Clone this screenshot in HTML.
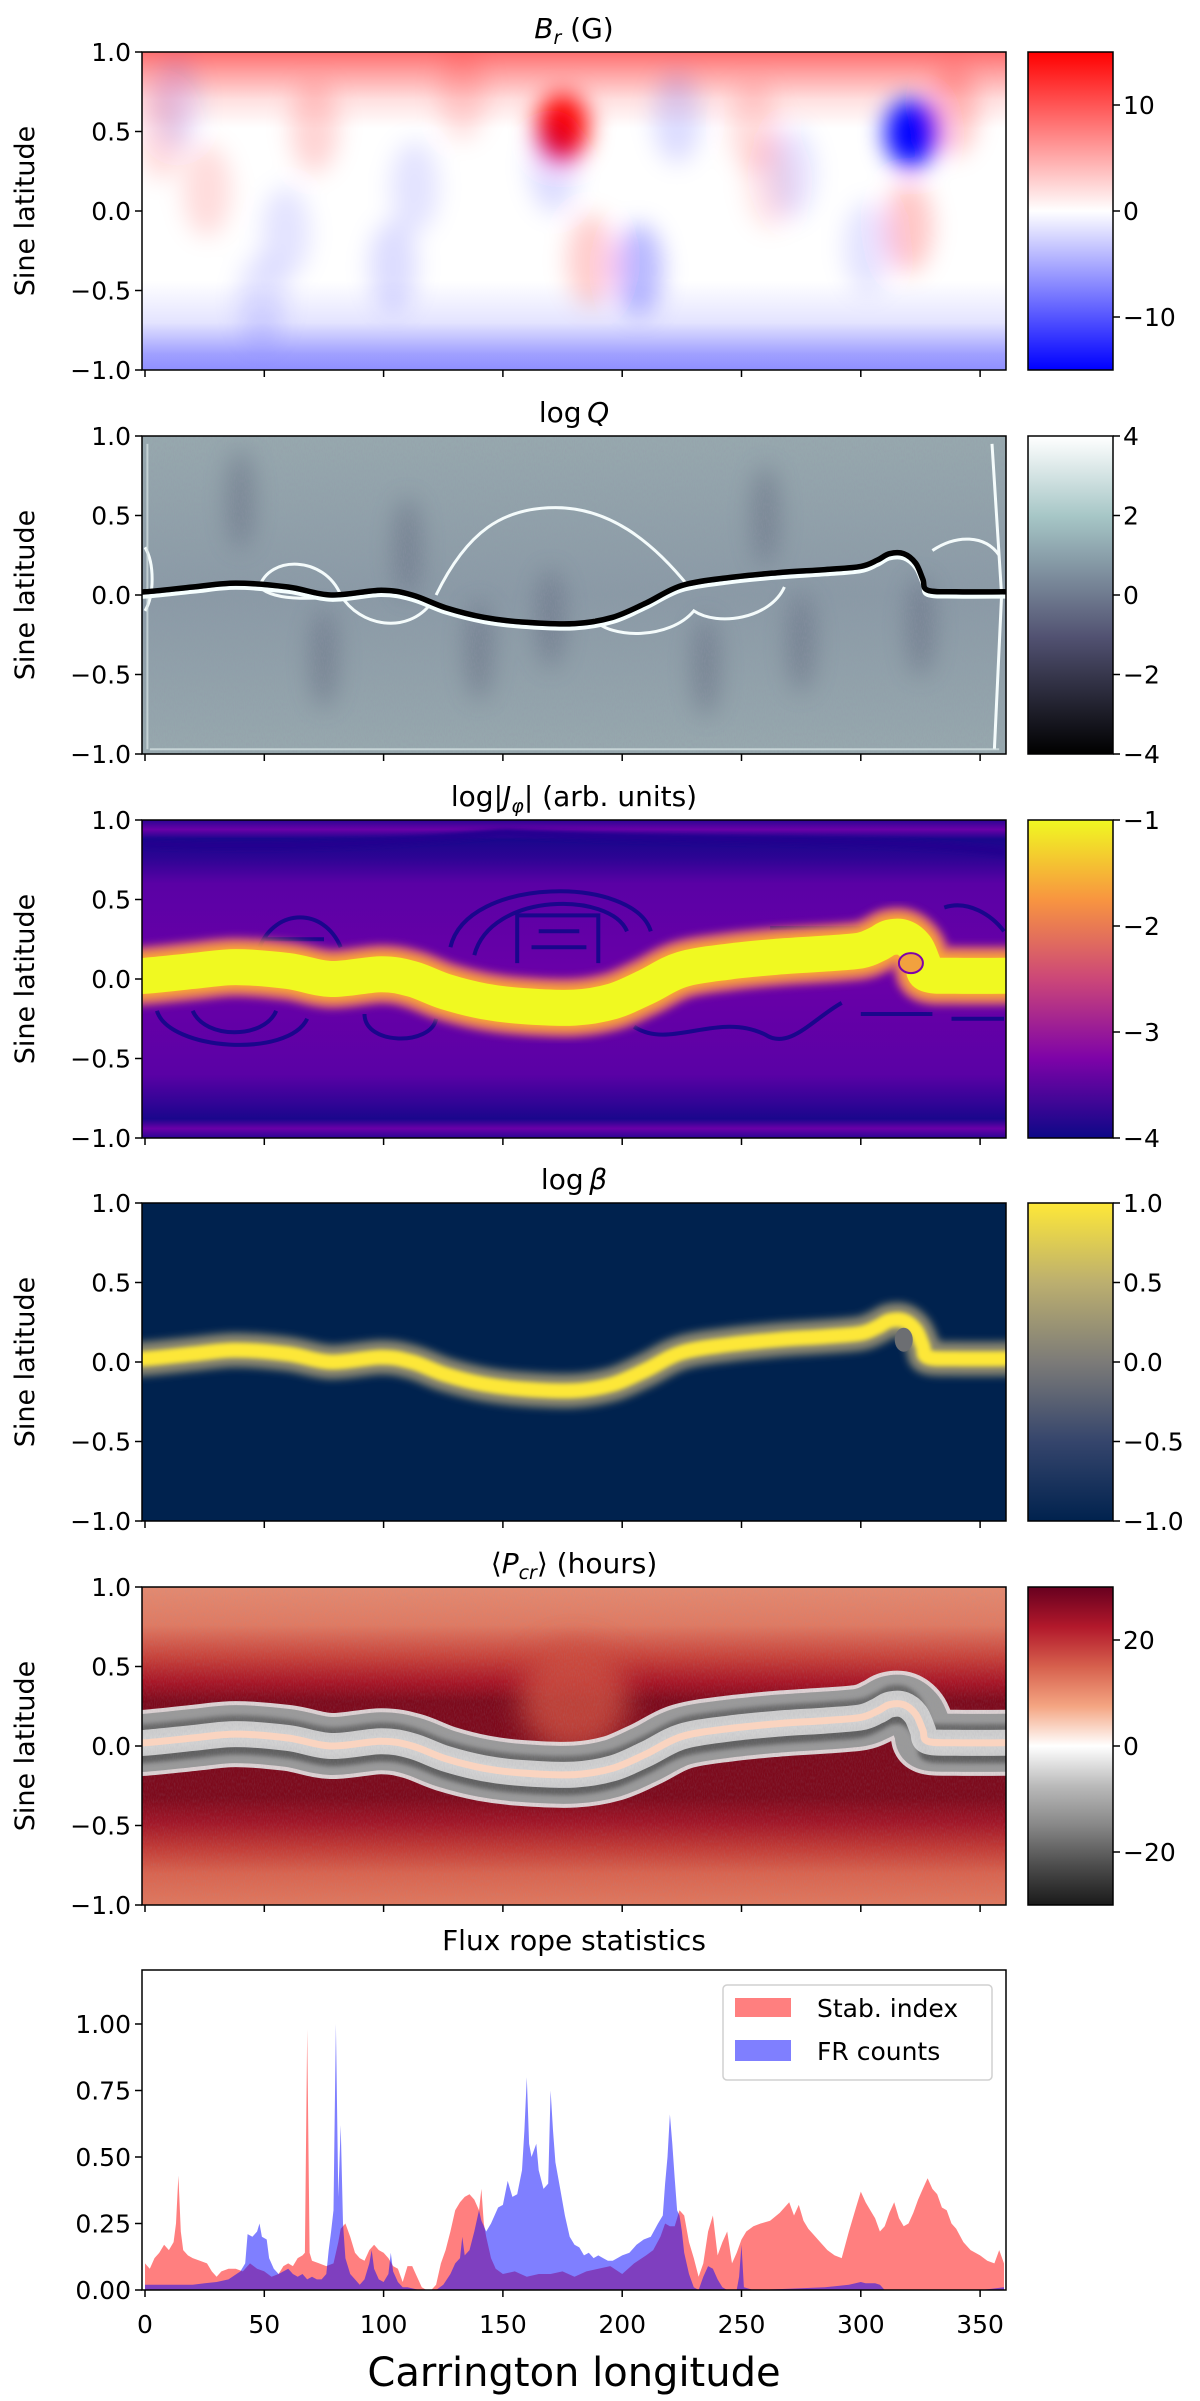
<!DOCTYPE html>
<html><head><meta charset="utf-8"><title>Flux rope figure</title>
<style>
html,body{margin:0;padding:0;background:#fff;}
svg{display:block;font-family:"DejaVu Sans","Liberation Sans",sans-serif;}
</style></head>
<body>
<svg id="fig" width="1200" height="2401" viewBox="0 0 1200 2401" xmlns="http://www.w3.org/2000/svg">
<defs>
<filter id="blur8" x="-50%" y="-50%" width="200%" height="200%"><feGaussianBlur stdDeviation="8"/></filter>
<filter id="blur12" x="-50%" y="-50%" width="200%" height="200%"><feGaussianBlur stdDeviation="12"/></filter>
<filter id="blur14" x="-50%" y="-50%" width="200%" height="200%"><feGaussianBlur stdDeviation="14"/></filter>
<filter id="blur4" x="-20%" y="-50%" width="140%" height="200%"><feGaussianBlur stdDeviation="4"/></filter>
<filter id="blur2" x="-20%" y="-50%" width="140%" height="200%"><feGaussianBlur stdDeviation="2"/></filter>
<filter id="noise" x="0" y="0" width="100%" height="100%"><feTurbulence type="fractalNoise" baseFrequency="0.9 0.3" numOctaves="2" seed="3"/><feColorMatrix type="matrix" values="0 0 0 0 0.3  0 0 0 0 0.3  0 0 0 0 0.4  0 0 0 -1.2 0.75"/></filter>
<filter id="speck" x="0" y="0" width="100%" height="100%"><feTurbulence type="fractalNoise" baseFrequency="0.5" numOctaves="1" seed="7"/><feColorMatrix type="matrix" values="0 0 0 0 1  0 0 0 0 1  0 0 0 0 1  0 0 0 -3 1.5"/></filter>
<linearGradient id="cb-bwr" x1="0" y1="0" x2="0" y2="1"><stop offset="0" stop-color="#ff0000"/><stop offset="0.5" stop-color="#ffffff"/><stop offset="1" stop-color="#0000ff"/></linearGradient>
<linearGradient id="cb-bone" x1="0" y1="0" x2="0" y2="1"><stop offset="0" stop-color="#ffffff"/><stop offset="0.254" stop-color="#a6c6c6"/><stop offset="0.635" stop-color="#515171"/><stop offset="1" stop-color="#000000"/></linearGradient>
<linearGradient id="cb-plasma" x1="0" y1="0" x2="0" y2="1"><stop offset="0" stop-color="#f0f921"/><stop offset="0.25" stop-color="#f89540"/><stop offset="0.5" stop-color="#cc4778"/><stop offset="0.75" stop-color="#7e03a8"/><stop offset="1" stop-color="#0d0887"/></linearGradient>
<linearGradient id="cb-cividis" x1="0" y1="0" x2="0" y2="1"><stop offset="0" stop-color="#fee838"/><stop offset="0.25" stop-color="#bcaf6f"/><stop offset="0.5" stop-color="#7c7b78"/><stop offset="0.75" stop-color="#35456c"/><stop offset="1" stop-color="#00224e"/></linearGradient>
<linearGradient id="cb-rdgy" x1="0" y1="0" x2="0" y2="1"><stop offset="0" stop-color="#67001f"/><stop offset="0.125" stop-color="#b2182b"/><stop offset="0.25" stop-color="#d6604d"/><stop offset="0.375" stop-color="#f4a582"/><stop offset="0.5" stop-color="#ffffff"/><stop offset="0.625" stop-color="#bababa"/><stop offset="0.75" stop-color="#878787"/><stop offset="0.875" stop-color="#4d4d4d"/><stop offset="1" stop-color="#1a1a1a"/></linearGradient>
<linearGradient id="bg-br" x1="0" y1="0" x2="0" y2="1"><stop offset="0" stop-color="#ff7070"/><stop offset="0.06" stop-color="#ff9e9e"/><stop offset="0.15" stop-color="#ffe0e0"/><stop offset="0.24" stop-color="#ffffff"/><stop offset="0.72" stop-color="#ffffff"/><stop offset="0.85" stop-color="#e4e4ff"/><stop offset="0.95" stop-color="#a0a0ff"/><stop offset="1" stop-color="#9090ff"/></linearGradient>
<linearGradient id="bg-q" x1="0" y1="0" x2="0" y2="1"><stop offset="0" stop-color="#97a9ae"/><stop offset="0.5" stop-color="#8a9aa6"/><stop offset="1" stop-color="#97a9ae"/></linearGradient>
<linearGradient id="bg-j" x1="0" y1="0" x2="0" y2="1"><stop offset="0" stop-color="#2a0593"/><stop offset="0.03" stop-color="#6a00a8"/><stop offset="0.06" stop-color="#1a068c"/><stop offset="0.12" stop-color="#2d0494"/><stop offset="0.2" stop-color="#5a01a5"/><stop offset="0.5" stop-color="#6a00a8"/><stop offset="0.8" stop-color="#5a01a5"/><stop offset="0.9" stop-color="#2d0494"/><stop offset="0.94" stop-color="#1a068c"/><stop offset="0.97" stop-color="#6a00a8"/><stop offset="1" stop-color="#2a0593"/></linearGradient>
<linearGradient id="bg-p" x1="0" y1="0" x2="0" y2="1"><stop offset="0" stop-color="#e48a70"/><stop offset="0.12" stop-color="#e07a62"/><stop offset="0.22" stop-color="#c8423a"/><stop offset="0.3" stop-color="#a81526"/><stop offset="0.36" stop-color="#7d0a1c"/><stop offset="0.66" stop-color="#7d0a1c"/><stop offset="0.74" stop-color="#a11527"/><stop offset="0.82" stop-color="#c23a35"/><stop offset="0.9" stop-color="#d9644f"/><stop offset="1" stop-color="#e0785e"/></linearGradient>
</defs>
</svg>
<script>
// ---------- data ----------
const xTicks = [0, 50, 100, 150, 200, 250, 300, 350];
const latTicks = [-1.0, -0.5, 0.0, 0.5, 1.0];
const latTickLabels = ["\u22121.0", "\u22120.5", "0.0", "0.5", "1.0"];
// neutral line (current sheet)
const nlLon = [0,20,38,60,78,99,112,126,142,158,180,196,210,225,245,265,285,300,307,312,318,323,326,328,340,360];
const nlLat = [0.02,0.05,0.075,0.05,0.0,0.03,0.0,-0.08,-0.14,-0.17,-0.18,-0.14,-0.05,0.06,0.11,0.14,0.16,0.18,0.22,0.26,0.26,0.2,0.1,0.03,0.02,0.02];
// Br field blobs: lon, lat, strength (G)
const brLon = [175,321,71,26,255,320,187,339,133,262,7,207,223,113,171,104,59,271,303,13,49];
const brLat = [0.53,0.49,0.53,0.13,0.53,-0.10,-0.31,0.64,0.74,0.18,0.49,-0.37,0.59,0.15,0.28,-0.35,-0.14,0.24,-0.23,0.68,-0.56];
const brVal = [15,-10,3,2.5,2.5,4,3.5,4,2.5,2,2.5,-5,-2.5,-2,-2.5,-2.5,-2,-2,-2,-2,-2];
// colorbar ticks
const cbTicks = [
  {vals:[10,0,-10], labels:["10","0","\u221210"], min:-15, max:15},
  {vals:[4,2,0,-2,-4], labels:["4","2","0","\u22122","\u22124"], min:-4, max:4},
  {vals:[-1,-2,-3,-4], labels:["\u22121","\u22122","\u22123","\u22124"], min:-4, max:-1},
  {vals:[1,0.5,0,-0.5,-1], labels:["1.0","0.5","0.0","\u22120.5","\u22121.0"], min:-1, max:1},
  {vals:[20,0,-20], labels:["20","0","\u221220"], min:-30, max:30}
];
// flux rope statistics
const stabLon = [0,2,4,6,8,10,12,13,14,15,16,18,20,23,26,28,30,32,35,38,41,44,47,50,53,56,58,60,62,64,66,67,68,69,70,73,76,79,81,82,84,86,88,90,92,94,96,98,100,102,104,106,108,110,112,114,116,118,120,122,124,126,128,130,132,134,136,138,140,141,142,143,145,147,150,155,160,165,170,175,180,185,190,195,200,205,210,213,216,218,220,222,224,226,228,230,232,234,236,238,240,242,244,246,248,250,252,255,258,262,266,270,272,274,276,278,280,283,286,289,292,295,298,300,302,304,306,308,310,312,314,316,318,320,322,324,326,328,330,332,334,336,338,340,343,346,350,353,356,358,360];
const stabVal = [.10,.08,.12,.14,.17,.15,.18,.25,.43,.22,.15,.13,.12,.11,.10,.07,.05,.07,.08,.08,.07,.10,.08,.07,.05,.06,.09,.10,.09,.12,.13,.14,.98,.14,.11,.10,.09,.10,.18,.23,.25,.20,.14,.12,.11,.15,.17,.15,.14,.12,.09,.08,.03,.09,.09,.05,.01,.00,.00,.02,.10,.15,.22,.30,.33,.35,.36,.34,.30,.38,.25,.20,.12,.08,.06,.07,.05,.06,.06,.07,.05,.07,.08,.09,.06,.10,.13,.15,.20,.25,.24,.24,.30,.28,.18,.12,.05,.10,.22,.28,.13,.18,.22,.10,.14,.19,.22,.24,.25,.26,.29,.33,.28,.32,.26,.23,.21,.18,.15,.13,.12,.22,.31,.37,.33,.30,.27,.22,.24,.29,.33,.27,.24,.25,.29,.34,.38,.42,.38,.36,.31,.30,.25,.23,.18,.15,.13,.11,.10,.15,.10];
const frLon = [0,10,20,25,30,35,40,42,43,45,47,48,49,51,52,54,56,58,60,62,64,66,68,70,72,74,76,77,78,79,80,81,82,83,84,86,88,90,92,94,95,96,98,100,102,103,104,106,108,110,115,122,125,128,130,132,133,134,136,138,140,141,143,145,148,150,152,154,156,158,159,160,161,162,164,165,167,169,170,171,172,174,176,178,180,182,184,186,188,190,192,194,196,198,200,203,206,209,212,215,217,218,219,220,221,222,223,224,225,226,228,230,232,234,236,238,240,242,244,248,249,250,251,255,270,285,295,300,302,306,308,310,350,355,360];
const frVal = [.02,.02,.02,.025,.03,.04,.07,.10,.21,.20,.22,.25,.20,.19,.12,.08,.06,.07,.08,.06,.05,.06,.04,.05,.04,.04,.06,.15,.22,.30,1.0,.35,.62,.25,.12,.06,.04,.02,.04,.10,.15,.08,.04,.03,.06,.14,.07,.03,.01,.01,.00,.00,.02,.06,.10,.12,.20,.13,.15,.22,.30,.26,.22,.25,.31,.32,.41,.35,.36,.45,.60,.80,.55,.50,.55,.45,.38,.40,.75,.60,.48,.38,.28,.20,.17,.16,.13,.14,.12,.13,.12,.11,.11,.12,.13,.14,.17,.19,.20,.25,.28,.40,.50,.66,.55,.42,.30,.28,.22,.14,.06,.01,.00,.05,.09,.08,.04,.01,.00,.00,.05,.17,.01,.00,.005,.01,.02,.03,.025,.025,.02,.00,.00,.005,.01];
const statTicks = [0, 0.25, 0.5, 0.75, 1.0];
const statTickLabels = ["0.00","0.25","0.50","0.75","1.00"];

// ---------- layout ----------
const NS = "http://www.w3.org/2000/svg";
const svg = document.getElementById('fig');
const PL = 142, PR = 1006, CBX = 1028, CBW = 85;
const tops = [52, 436, 820, 1203, 1587];
const PH = 318;
const X = lon => 145 + lon * 2.386;
const Ylat = (top, lat) => top + PH / 2 * (1 - lat);
const S0 = 2290, SH = 266;
const Ys = v => S0 - v * SH;

function mk(tag, attrs, parent) {
  const e = document.createElementNS(NS, tag);
  for (const k in attrs) e.setAttribute(k, attrs[k]);
  (parent || svg).appendChild(e);
  return e;
}
function txt(str, attrs, parent) {
  const t = mk('text', attrs, parent);
  t.textContent = str;
  return t;
}
// smooth (Catmull-Rom) path through neutral-line points
function nlPath(top, dlat) {
  const pts = nlLon.map((l, i) => [X(l), Ylat(top, nlLat[i] + (dlat || 0))]);
  pts.unshift([pts[0][0] - 20, pts[0][1]]);
  pts.push([pts[pts.length - 1][0] + 20, pts[pts.length - 1][1]]);
  let d = 'M' + pts[0][0].toFixed(1) + ',' + pts[0][1].toFixed(1);
  for (let i = 0; i < pts.length - 1; i++) {
    const p0 = pts[Math.max(0, i - 1)], p1 = pts[i], p2 = pts[i + 1], p3 = pts[Math.min(pts.length - 1, i + 2)];
    const c1 = [p1[0] + (p2[0] - p0[0]) / 6, p1[1] + (p2[1] - p0[1]) / 6];
    const c2 = [p2[0] - (p3[0] - p1[0]) / 6, p2[1] - (p3[1] - p1[1]) / 6];
    d += 'C' + c1[0].toFixed(1) + ',' + c1[1].toFixed(1) + ' ' + c2[0].toFixed(1) + ',' + c2[1].toFixed(1) + ' ' + p2[0].toFixed(1) + ',' + p2[1].toFixed(1);
  }
  return d;
}
function panelGroup(i, name) {
  const cp = mk('clipPath', {id: 'clip' + i}, svg.querySelector('defs'));
  mk('rect', {x: PL, y: tops[i], width: PR - PL, height: PH}, cp);
  const g = mk('g', {'clip-path': 'url(#clip' + i + ')'});
  
  
  return g;
}

// ---------- panel 1: Br ----------
{
  const top = tops[0];
  const g = panelGroup(0, 'br-heatmap');
  mk('rect', {x: PL, y: top, width: PR - PL, height: PH, fill: 'url(#bg-br)'}, g);
  const bg = mk('g', {filter: 'url(#blur12)'}, g);
  for (let i = 0; i < brLon.length; i++) {
    const v = brVal[i];
    const strong = Math.abs(v) > 8;
    const e = mk('ellipse', {
      cx: X(brLon[i]), cy: Ylat(top, brLat[i]),
      rx: strong ? 26 : 24, ry: strong ? 34 : 46,
      fill: v > 0 ? '#ff0000' : '#0000ff',
      'fill-opacity': strong ? 1 : Math.min(1, Math.abs(v) / 18)
    }, bg);
    
    
  }
}
// ---------- panel 2: log Q ----------
{
  const top = tops[1];
  const g = panelGroup(1, 'logq-heatmap');
  mk('rect', {x: PL, y: top, width: PR - PL, height: PH, fill: 'url(#bg-q)'}, g);
  const dark = mk('g', {filter: 'url(#blur12)', opacity: 0.35}, g);
  [[75,-0.4],[140,-0.35],[170,-0.15],[235,-0.45],[275,-0.3],[325,-0.2],[110,0.3],[260,0.5],[40,0.6]].forEach(p => {
    mk('ellipse', {cx: X(p[0]), cy: Ylat(top, p[1]), rx: 14, ry: 50, fill: '#4a4f6a'}, dark);
  });
  mk('rect', {x: PL, y: top, width: PR - PL, height: PH, filter: 'url(#noise)', opacity: 0.5}, g);
  const arcs = mk('g', {fill: 'none', stroke: '#f4fbfb', 'stroke-width': 3}, g);
  
  
  const P = (lon, lat) => X(lon).toFixed(1) + ',' + Ylat(top, lat).toFixed(1);
  mk('path', {d: 'M' + P(122, 0.0) + ' C' + P(135, 0.4) + ' ' + P(150, 0.55) + ' ' + P(172, 0.55) + ' S' + P(212, 0.35) + ' ' + P(228, 0.05)}, arcs);
  mk('path', {d: 'M' + P(48, 0.05) + ' C' + P(52, 0.25) + ' ' + P(75, 0.25) + ' ' + P(82, 0.0) + ' C' + P(90, -0.2) + ' ' + P(110, -0.25) + ' ' + P(120, -0.05)}, arcs);
  mk('path', {d: 'M' + P(48, 0.05) + ' C' + P(55, -0.05) + ' ' + P(75, -0.02) + ' ' + P(82, 0.0)}, arcs);
  mk('path', {d: 'M' + P(188, -0.15) + ' C' + P(195, -0.28) + ' ' + P(220, -0.28) + ' ' + P(230, -0.1) + ' C' + P(240, -0.2) + ' ' + P(262, -0.15) + ' ' + P(268, 0.05)}, arcs);
  mk('path', {d: 'M' + P(330, 0.28) + ' C' + P(340, 0.38) + ' ' + P(352, 0.38) + ' ' + P(358, 0.25)}, arcs);
  mk('path', {d: 'M' + P(0, 0.3) + ' C' + P(4, 0.2) + ' ' + P(4, 0.0) + ' ' + P(0, -0.1)}, arcs);
  mk('path', {d: 'M' + P(355, 0.95) + ' L' + P(359, 0.0) + ' L' + P(356, -0.97)}, arcs);
  mk('path', {d: 'M' + P(1, 0.95) + ' L' + P(1, -0.97) + ' M' + P(2, -0.97) + ' L' + P(358, -0.97)}, mk('g', {fill: 'none', stroke: '#d8e6e6', 'stroke-width': 2, opacity: 0.7}, g));
  mk('path', {d: nlPath(top, -0.03), fill: 'none', stroke: '#f6ffff', 'stroke-width': 4}, g);
  const nl = mk('path', {d: nlPath(top), fill: 'none', stroke: '#000', 'stroke-width': 5.5, 'stroke-linejoin': 'round'}, g);
  
  
}
// ---------- panel 3: log |J| ----------
{
  const top = tops[2];
  const g = panelGroup(2, 'logj-heatmap');
  mk('rect', {x: PL, y: top, width: PR - PL, height: PH, fill: 'url(#bg-j)'}, g);
  const arcs = mk('g', {fill: 'none', stroke: '#1a068c', 'stroke-width': 4}, g);
  const P = (lon, lat) => X(lon).toFixed(1) + ',' + Ylat(top, lat).toFixed(1);
  mk('path', {d: 'M' + P(128, 0.2) + ' C' + P(135, 0.65) + ' ' + P(205, 0.65) + ' ' + P(212, 0.3)}, arcs);
  mk('path', {d: 'M' + P(138, 0.15) + ' C' + P(145, 0.55) + ' ' + P(195, 0.55) + ' ' + P(202, 0.3)}, arcs);
  mk('path', {d: 'M' + P(156, 0.1) + ' L' + P(156, 0.4) + ' L' + P(190, 0.4) + ' L' + P(190, 0.1) + ' M' + P(165, 0.3) + ' L' + P(182, 0.3) + ' M' + P(162, 0.2) + ' L' + P(185, 0.2)}, arcs);
  mk('path', {d: 'M' + P(48, 0.2) + ' C' + P(55, 0.45) + ' ' + P(75, 0.45) + ' ' + P(82, 0.2) + ' M' + P(50, 0.25) + ' L' + P(75, 0.25)}, arcs);
  mk('path', {d: 'M' + P(5, -0.2) + ' C' + P(10, -0.45) + ' ' + P(60, -0.5) + ' ' + P(68, -0.25) + ' M' + P(20, -0.2) + ' C' + P(25, -0.38) + ' ' + P(50, -0.38) + ' ' + P(55, -0.2)}, arcs);
  mk('path', {d: 'M' + P(92, -0.22) + ' C' + P(92, -0.42) + ' ' + P(120, -0.42) + ' ' + P(122, -0.25)}, arcs);
  mk('path', {d: 'M' + P(205, -0.3) + ' C' + P(220, -0.45) + ' ' + P(240, -0.2) + ' ' + P(260, -0.35) + ' C' + P(270, -0.45) + ' ' + P(280, -0.25) + ' ' + P(292, -0.15)}, arcs);
  mk('path', {d: 'M' + P(300, -0.22) + ' L' + P(330, -0.22) + ' M' + P(338, -0.25) + ' L' + P(360, -0.25) + ' M' + P(335, 0.45) + ' C' + P(345, 0.5) + ' ' + P(355, 0.4) + ' ' + P(360, 0.3) + ' M' + P(262, 0.32) + ' L' + P(300, 0.32)}, arcs);
  mk('path', {d: 'M' + P(150, 0.92) + ' C' + P(250, 0.85) + ' ' + P(300, 0.9) + ' ' + P(360, 0.8) + ' M' + P(0, 0.85) + ' C' + P(60, 0.82) + ' ' + P(100, 0.85) + ' ' + P(150, 0.92)}, mk('g', {fill: 'none', stroke: '#24058f', 'stroke-width': 8, filter: 'url(#blur2)'}, g));
  mk('path', {d: nlPath(top), fill: 'none', stroke: '#e8706a', 'stroke-width': 60, 'stroke-linejoin': 'round', filter: 'url(#blur4)', opacity: 0.8}, g);
  mk('path', {d: nlPath(top), fill: 'none', stroke: '#fca636', 'stroke-width': 46, 'stroke-linejoin': 'round', filter: 'url(#blur4)'}, g);
  const band = mk('path', {d: nlPath(top), fill: 'none', stroke: '#f0f921', 'stroke-width': 36, 'stroke-linejoin': 'round'}, g);
  
  
  mk('ellipse', {cx: X(321), cy: Ylat(top, 0.1), rx: 12, ry: 10, fill: '#f2a13e', stroke: '#7e03a8', 'stroke-width': 2}, g);
}
// ---------- panel 4: log beta ----------
{
  const top = tops[3];
  const g = panelGroup(3, 'logbeta-heatmap');
  mk('rect', {x: PL, y: top, width: PR - PL, height: PH, fill: '#00224e'}, g);
  mk('path', {d: nlPath(top), fill: 'none', stroke: '#8a8670', 'stroke-width': 34, 'stroke-linejoin': 'round', filter: 'url(#blur4)'}, g);
  const band = mk('path', {d: nlPath(top), fill: 'none', stroke: '#fde737', 'stroke-width': 15, 'stroke-linejoin': 'round', filter: 'url(#blur2)'}, g);
  
  
  mk('ellipse', {cx: X(318), cy: Ylat(top, 0.14), rx: 9, ry: 12, fill: '#6c6e72'}, g);
}
// ---------- panel 5: Pcr ----------
{
  const top = tops[4];
  const g = panelGroup(4, 'pcr-heatmap');
  mk('rect', {x: PL, y: top, width: PR - PL, height: PH, fill: 'url(#bg-p)'}, g);
  mk('ellipse', {cx: X(180), cy: Ylat(top, 0.3), rx: 55, ry: 55, fill: '#cf4f3f', filter: 'url(#blur14)', opacity: 0.8}, g);
  mk('path', {d: nlPath(top), fill: 'none', stroke: '#e8e8e8', 'stroke-width': 66, 'stroke-linejoin': 'round', opacity: 0.9}, g);
  mk('path', {d: nlPath(top), fill: 'none', stroke: '#9a9a9a', 'stroke-width': 58, 'stroke-linejoin': 'round'}, g);
  mk('path', {d: nlPath(top, 0.08), fill: 'none', stroke: '#4a4a4a', 'stroke-width': 12, opacity: 0.6, filter: 'url(#blur2)'}, g);
  mk('path', {d: nlPath(top, -0.09), fill: 'none', stroke: '#3a3a3a', 'stroke-width': 12, opacity: 0.6, filter: 'url(#blur2)'}, g);
  mk('path', {d: nlPath(top), fill: 'none', stroke: '#d9d9d9', 'stroke-width': 26, 'stroke-linejoin': 'round', opacity: 0.9}, g);
  mk('rect', {x: PL, y: top, width: PR - PL, height: PH, filter: 'url(#noise)', opacity: 0.25}, g);
  const band = mk('path', {d: nlPath(top), fill: 'none', stroke: '#fad4c0', 'stroke-width': 7, 'stroke-linejoin': 'round'}, g);
  
  
}

// ---------- axes, ticks, colorbars ----------
const cbFills = ['url(#cb-bwr)', 'url(#cb-bone)', 'url(#cb-plasma)', 'url(#cb-cividis)', 'url(#cb-rdgy)'];
const titleStrs = [
  '<tspan font-style="italic">B</tspan><tspan font-style="italic" font-size="19" dy="6">r</tspan><tspan dy="-6"> (G)</tspan>',
  'log\u2009<tspan font-style="italic">Q</tspan>',
  'log|<tspan font-style="italic">J</tspan><tspan font-style="italic" font-size="19" dy="6">\u03c6</tspan><tspan dy="-6">| (arb. units)</tspan>',
  'log\u2009<tspan font-style="italic">\u03b2</tspan>',
  '\u27e8<tspan font-style="italic">P</tspan><tspan font-style="italic" font-size="19" dy="6">cr</tspan><tspan dy="-6">\u27e9 (hours)</tspan>'
];
const titleNames = ['br-title', 'logq-title', 'logj-title', 'logbeta-title', 'pcr-title'];
tops.forEach((top, i) => {
  const fr = mk('rect', {x: PL, y: top, width: PR - PL, height: PH, fill: 'none', stroke: '#000', 'stroke-width': 1.5});
  
  
  const t = mk('text', {x: 574, y: top - 14, 'font-size': 28, 'text-anchor': 'middle', fill: '#000'});
  t.innerHTML = titleStrs[i];
  
  
  const yl = txt('Sine latitude', {x: 0, y: 0, 'font-size': 27, 'text-anchor': 'middle', transform: 'translate(34,' + (top + PH / 2) + ') rotate(-90)'});
  
  
  latTicks.forEach((v, k) => {
    const y = Ylat(top, v);
    mk('line', {x1: PL - 7, x2: PL, y1: y, y2: y, stroke: '#000', 'stroke-width': 1.5});
    const tl = txt(latTickLabels[k], {x: PL - 11, y: y + 9, 'font-size': 25, 'text-anchor': 'end'});
    
    
  });
  xTicks.forEach(v => {
    mk('line', {x1: X(v), x2: X(v), y1: top + PH, y2: top + PH + 7, stroke: '#000', 'stroke-width': 1.5});
  });
  const cb = mk('rect', {x: CBX, y: top, width: CBW, height: PH, fill: cbFills[i], stroke: '#000', 'stroke-width': 1.5});
  
  
  const c = cbTicks[i];
  c.vals.forEach((v, k) => {
    const y = top + PH * (c.max - v) / (c.max - c.min);
    mk('line', {x1: CBX + CBW, x2: CBX + CBW + 7, y1: y, y2: y, stroke: '#000', 'stroke-width': 1.5});
    const tl = txt(c.labels[k], {x: CBX + CBW + 10, y: y + 9, 'font-size': 25});
    
    
  });
});

// ---------- stats panel ----------
{
  const st = txt('Flux rope statistics', {x: 574, y: 1950, 'font-size': 28, 'text-anchor': 'middle'});
  
  
  const cp = mk('clipPath', {id: 'clipS'}, svg.querySelector('defs'));
  mk('rect', {x: PL, y: 1970, width: PR - PL, height: 320}, cp);
  const g = mk('g', {'clip-path': 'url(#clipS)'});
  
  
  function area(lons, vals) {
    let d = 'M' + X(lons[0]).toFixed(1) + ',' + Ys(0);
    for (let i = 0; i < lons.length; i++) d += 'L' + X(lons[i]).toFixed(1) + ',' + Ys(vals[i]).toFixed(1);
    d += 'L' + X(lons[lons.length - 1]).toFixed(1) + ',' + Ys(0) + 'Z';
    return d;
  }
  const a1 = mk('path', {d: area(stabLon, stabVal), fill: '#ff0000', 'fill-opacity': 0.5}, g);
  
  
  const a2 = mk('path', {d: area(frLon, frVal), fill: '#0000ff', 'fill-opacity': 0.5}, g);
  
  
  const fr = mk('rect', {x: PL, y: 1970, width: PR - PL, height: 320, fill: 'none', stroke: '#000', 'stroke-width': 1.5});
  
  
  statTicks.forEach((v, k) => {
    const y = Ys(v);
    mk('line', {x1: PL - 7, x2: PL, y1: y, y2: y, stroke: '#000', 'stroke-width': 1.5});
    const tl = txt(statTickLabels[k], {x: PL - 11, y: y + 9, 'font-size': 25, 'text-anchor': 'end'});
    
    
  });
  xTicks.forEach(v => {
    mk('line', {x1: X(v), x2: X(v), y1: 2290, y2: 2297, stroke: '#000', 'stroke-width': 1.5});
    const tl = txt(String(v), {x: X(v), y: 2333, 'font-size': 25, 'text-anchor': 'middle'});
    
    
  });
  const xl = txt('Carrington longitude', {x: 574, y: 2386, 'font-size': 40, 'text-anchor': 'middle'});
  
  
  const lg = mk('g', {});
  
  
  mk('rect', {x: 723, y: 1985, width: 269, height: 95, rx: 4, fill: '#fff', 'fill-opacity': 0.8, stroke: '#d0d0d0', 'stroke-width': 1.5}, lg);
  const e1 = mk('rect', {x: 735, y: 1998, width: 56, height: 19, fill: '#ff0000', 'fill-opacity': 0.5}, lg);
  
  
  const l1 = txt('Stab. index', {x: 817, y: 2017, 'font-size': 25}, lg);
  
  
  const e2 = mk('rect', {x: 735, y: 2040, width: 56, height: 21, fill: '#0000ff', 'fill-opacity': 0.5}, lg);
  
  
  const l2 = txt('FR counts', {x: 817, y: 2060, 'font-size': 25}, lg);
  
  
}
</script>
</body></html>
